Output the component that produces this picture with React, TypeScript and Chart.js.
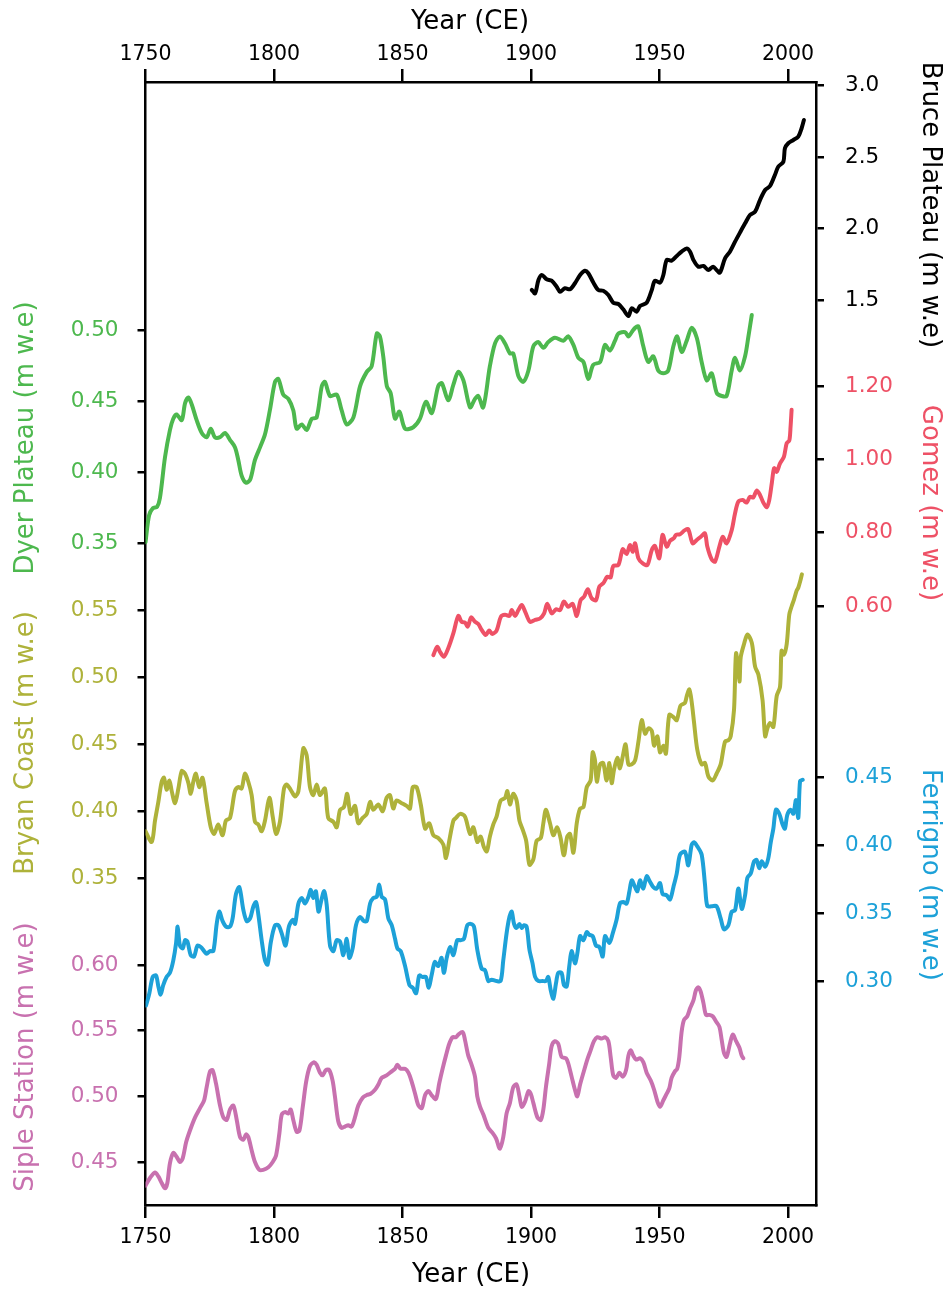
import React, { useEffect, useRef } from "react";
import { Chart, registerables } from "chart.js";

Chart.register(...registerables);

// ---------------- data ----------------
const YEAR_TICKS = [1750, 1800, 1850, 1900, 1950, 2000];

const BRUCE_YEARS = [1900.3, 1901.6, 1902.9, 1904.2, 1906.1, 1908.0, 1910.0, 1911.3, 1913.2, 1915.2, 1917.1, 1919.1, 1921.0, 1922.3, 1924.3, 1926.2, 1928.1, 1930.1, 1932.0, 1934.0, 1935.9, 1937.9, 1939.2, 1941.1, 1942.4, 1945.0, 1947.0, 1948.2, 1950.2, 1951.5, 1952.8, 1954.7, 1956.7, 1958.6, 1960.6, 1961.9, 1963.2, 1965.1, 1967.1, 1969.0, 1970.9, 1972.2, 1973.5, 1975.5, 1977.4, 1979.4, 1981.3, 1983.3, 1985.2, 1987.2, 1989.1, 1991.1, 1993.0, 1994.9, 1996.2, 1998.2, 1998.8, 2000.1, 2002.1, 2004.0, 2005.3, 2006.2];
const BRUCE_VALUES = [1.570, 1.547, 1.640, 1.675, 1.645, 1.635, 1.593, 1.558, 1.582, 1.575, 1.617, 1.675, 1.705, 1.687, 1.621, 1.570, 1.565, 1.535, 1.481, 1.472, 1.435, 1.388, 1.442, 1.418, 1.458, 1.481, 1.570, 1.635, 1.621, 1.675, 1.780, 1.775, 1.808, 1.838, 1.861, 1.838, 1.780, 1.733, 1.738, 1.710, 1.733, 1.710, 1.691, 1.791, 1.838, 1.908, 1.971, 2.036, 2.094, 2.118, 2.199, 2.269, 2.297, 2.374, 2.432, 2.467, 2.561, 2.596, 2.619, 2.642, 2.701, 2.759];

const DYER_YEARS = [1750.0, 1751.4, 1752.9, 1754.5, 1755.6, 1757.6, 1759.5, 1760.8, 1762.1, 1764.1, 1765.4, 1766.7, 1768.0, 1769.9, 1771.9, 1773.8, 1775.4, 1777.0, 1779.0, 1780.9, 1782.9, 1784.8, 1786.1, 1787.4, 1789.1, 1790.7, 1792.6, 1794.6, 1796.5, 1798.4, 1800.4, 1801.7, 1803.6, 1805.6, 1807.5, 1808.8, 1810.8, 1812.7, 1814.7, 1816.6, 1818.6, 1819.8, 1821.8, 1824.4, 1826.3, 1828.3, 1830.9, 1833.5, 1836.1, 1838.0, 1840.0, 1841.2, 1842.5, 1843.9, 1845.4, 1847.1, 1848.8, 1851.0, 1854.2, 1856.8, 1859.1, 1861.4, 1863.9, 1865.3, 1867.8, 1869.8, 1871.7, 1873.7, 1876.3, 1878.2, 1879.5, 1881.4, 1884.0, 1886.0, 1887.9, 1889.9, 1891.8, 1893.1, 1895.1, 1897.0, 1899.0, 1900.9, 1902.8, 1904.8, 1906.7, 1909.3, 1912.6, 1914.5, 1916.5, 1918.4, 1920.4, 1922.3, 1924.2, 1926.9, 1928.8, 1930.7, 1932.7, 1934.0, 1936.6, 1937.9, 1939.2, 1940.5, 1941.8, 1943.7, 1945.6, 1947.6, 1949.5, 1951.5, 1953.4, 1955.4, 1956.9, 1958.6, 1960.6, 1962.5, 1964.5, 1966.4, 1968.4, 1970.3, 1972.3, 1974.2, 1976.1, 1978.1, 1979.4, 1981.3, 1983.3, 1984.6, 1985.9];
const DYER_VALUES = [0.351, 0.370, 0.375, 0.376, 0.382, 0.411, 0.430, 0.438, 0.441, 0.437, 0.449, 0.453, 0.448, 0.437, 0.428, 0.425, 0.431, 0.425, 0.425, 0.428, 0.423, 0.418, 0.409, 0.398, 0.393, 0.395, 0.409, 0.418, 0.427, 0.444, 0.464, 0.466, 0.455, 0.452, 0.444, 0.431, 0.434, 0.430, 0.438, 0.439, 0.461, 0.464, 0.454, 0.455, 0.444, 0.434, 0.439, 0.461, 0.471, 0.475, 0.498, 0.496, 0.482, 0.461, 0.456, 0.438, 0.443, 0.431, 0.432, 0.438, 0.450, 0.442, 0.461, 0.463, 0.451, 0.462, 0.471, 0.465, 0.446, 0.452, 0.454, 0.446, 0.475, 0.491, 0.496, 0.491, 0.484, 0.484, 0.468, 0.464, 0.472, 0.489, 0.492, 0.488, 0.492, 0.495, 0.493, 0.496, 0.490, 0.481, 0.478, 0.466, 0.476, 0.478, 0.490, 0.486, 0.493, 0.498, 0.499, 0.496, 0.499, 0.502, 0.503, 0.489, 0.478, 0.482, 0.472, 0.470, 0.472, 0.489, 0.496, 0.485, 0.493, 0.502, 0.495, 0.478, 0.465, 0.470, 0.456, 0.454, 0.454, 0.472, 0.481, 0.472, 0.482, 0.496, 0.511];

const GOMEZ_YEARS = [1862.0, 1863.5, 1864.6, 1866.1, 1867.8, 1869.8, 1871.7, 1873.0, 1874.3, 1875.4, 1876.7, 1878.2, 1879.5, 1880.8, 1882.4, 1883.7, 1884.9, 1886.6, 1888.3, 1889.9, 1891.6, 1892.5, 1893.8, 1895.1, 1896.4, 1897.7, 1899.6, 1901.6, 1903.5, 1905.1, 1906.3, 1908.1, 1909.7, 1911.3, 1912.8, 1914.5, 1916.2, 1917.8, 1919.3, 1920.7, 1922.1, 1923.6, 1925.3, 1926.6, 1928.1, 1929.7, 1931.0, 1932.0, 1934.0, 1935.7, 1937.2, 1938.5, 1939.6, 1940.5, 1941.8, 1943.5, 1945.3, 1947.0, 1948.2, 1949.9, 1951.2, 1952.8, 1954.1, 1955.6, 1956.4, 1958.0, 1959.9, 1961.2, 1962.9, 1964.5, 1966.4, 1967.7, 1968.6, 1970.3, 1971.6, 1973.3, 1974.6, 1976.1, 1978.1, 1979.4, 1980.7, 1982.4, 1983.9, 1985.2, 1986.5, 1987.8, 1989.1, 1990.4, 1991.7, 1992.7, 1993.7, 1994.6, 1995.6, 1996.9, 1998.4, 1999.5, 2000.5, 2001.0, 2001.4];
const GOMEZ_VALUES = [0.466, 0.489, 0.475, 0.462, 0.485, 0.526, 0.573, 0.557, 0.555, 0.544, 0.569, 0.557, 0.551, 0.535, 0.521, 0.533, 0.524, 0.533, 0.571, 0.576, 0.573, 0.589, 0.573, 0.589, 0.603, 0.585, 0.557, 0.562, 0.566, 0.580, 0.606, 0.580, 0.591, 0.589, 0.612, 0.598, 0.606, 0.573, 0.616, 0.626, 0.646, 0.621, 0.616, 0.653, 0.662, 0.680, 0.678, 0.709, 0.712, 0.755, 0.742, 0.766, 0.748, 0.771, 0.730, 0.716, 0.712, 0.753, 0.764, 0.730, 0.794, 0.762, 0.778, 0.785, 0.794, 0.796, 0.807, 0.809, 0.771, 0.780, 0.791, 0.798, 0.762, 0.727, 0.721, 0.762, 0.789, 0.771, 0.807, 0.853, 0.885, 0.889, 0.882, 0.898, 0.896, 0.915, 0.903, 0.882, 0.869, 0.889, 0.935, 0.976, 0.966, 0.989, 1.007, 1.044, 1.051, 1.089, 1.135];

const BRYAN_YEARS = [1750.0, 1752.4, 1753.7, 1755.0, 1756.3, 1757.2, 1758.2, 1759.3, 1760.2, 1761.5, 1762.8, 1764.1, 1765.4, 1766.7, 1767.6, 1768.6, 1769.6, 1770.9, 1772.2, 1773.8, 1775.4, 1776.7, 1778.3, 1780.0, 1781.3, 1782.9, 1784.8, 1786.1, 1787.4, 1788.7, 1790.0, 1791.3, 1792.6, 1793.9, 1795.2, 1796.5, 1798.2, 1799.5, 1800.8, 1802.3, 1803.9, 1804.9, 1806.5, 1808.2, 1809.5, 1811.4, 1812.7, 1814.0, 1815.3, 1816.6, 1817.9, 1819.8, 1821.1, 1823.1, 1824.4, 1825.7, 1827.2, 1828.5, 1829.8, 1831.5, 1832.8, 1834.5, 1836.1, 1837.4, 1838.6, 1840.6, 1842.3, 1843.8, 1845.1, 1846.4, 1847.7, 1849.7, 1851.6, 1852.9, 1854.0, 1855.5, 1857.1, 1858.8, 1860.4, 1862.0, 1863.9, 1865.9, 1866.9, 1868.2, 1869.8, 1870.8, 1872.4, 1874.3, 1876.3, 1877.6, 1879.1, 1880.4, 1881.7, 1882.8, 1884.0, 1885.3, 1886.6, 1888.2, 1889.9, 1890.8, 1891.8, 1893.1, 1894.4, 1895.5, 1896.8, 1898.1, 1899.4, 1900.9, 1902.2, 1903.8, 1904.8, 1905.8, 1907.4, 1908.7, 1910.2, 1911.5, 1912.8, 1914.1, 1915.2, 1916.5, 1917.8, 1919.1, 1920.4, 1921.7, 1923.2, 1924.0, 1924.9, 1925.6, 1926.9, 1928.1, 1929.4, 1930.5, 1931.4, 1932.3, 1933.6, 1934.6, 1935.7, 1936.8, 1937.9, 1939.2, 1940.5, 1941.8, 1943.1, 1944.4, 1945.7, 1947.0, 1947.9, 1949.2, 1950.2, 1951.5, 1952.5, 1953.8, 1955.6, 1956.7, 1958.2, 1959.9, 1960.6, 1961.6, 1962.5, 1963.4, 1964.7, 1966.4, 1967.7, 1969.0, 1970.7, 1972.2, 1973.8, 1975.5, 1976.8, 1977.7, 1979.0, 1979.8, 1981.1, 1981.6, 1982.9, 1984.2, 1985.9, 1987.2, 1988.5, 1990.1, 1991.1, 1992.0, 1993.0, 1994.3, 1995.6, 1996.9, 1997.5, 1998.4, 1999.5, 2000.5, 2001.4, 2002.3, 2003.4, 2004.0, 2004.9, 2005.4];
const BRYAN_VALUES = [0.385, 0.377, 0.393, 0.407, 0.422, 0.425, 0.416, 0.423, 0.415, 0.406, 0.417, 0.430, 0.428, 0.421, 0.413, 0.422, 0.428, 0.418, 0.425, 0.406, 0.388, 0.383, 0.390, 0.382, 0.393, 0.395, 0.415, 0.418, 0.417, 0.428, 0.422, 0.412, 0.392, 0.390, 0.385, 0.393, 0.410, 0.396, 0.383, 0.392, 0.417, 0.420, 0.416, 0.411, 0.415, 0.447, 0.442, 0.418, 0.412, 0.420, 0.412, 0.417, 0.395, 0.392, 0.388, 0.401, 0.403, 0.413, 0.398, 0.404, 0.391, 0.395, 0.398, 0.407, 0.401, 0.405, 0.400, 0.410, 0.412, 0.402, 0.408, 0.406, 0.404, 0.402, 0.418, 0.418, 0.405, 0.387, 0.391, 0.382, 0.380, 0.375, 0.365, 0.378, 0.393, 0.395, 0.398, 0.396, 0.383, 0.388, 0.377, 0.381, 0.373, 0.370, 0.381, 0.390, 0.396, 0.408, 0.410, 0.415, 0.405, 0.413, 0.408, 0.393, 0.386, 0.378, 0.360, 0.364, 0.378, 0.380, 0.391, 0.401, 0.391, 0.382, 0.388, 0.380, 0.367, 0.381, 0.383, 0.369, 0.391, 0.402, 0.403, 0.418, 0.423, 0.444, 0.438, 0.422, 0.435, 0.436, 0.423, 0.436, 0.421, 0.431, 0.440, 0.432, 0.441, 0.450, 0.435, 0.435, 0.438, 0.452, 0.468, 0.458, 0.462, 0.460, 0.449, 0.456, 0.444, 0.449, 0.443, 0.472, 0.470, 0.468, 0.479, 0.481, 0.486, 0.491, 0.482, 0.467, 0.446, 0.435, 0.436, 0.426, 0.423, 0.428, 0.435, 0.452, 0.453, 0.456, 0.476, 0.518, 0.497, 0.515, 0.525, 0.532, 0.526, 0.508, 0.502, 0.483, 0.456, 0.462, 0.466, 0.463, 0.486, 0.493, 0.520, 0.517, 0.525, 0.547, 0.553, 0.558, 0.565, 0.567, 0.573, 0.577];

const FERRIGNO_YEARS = [1750.2, 1751.5, 1752.8, 1754.1, 1755.0, 1755.9, 1756.9, 1758.2, 1759.5, 1760.8, 1761.9, 1762.5, 1763.4, 1764.5, 1765.4, 1766.3, 1767.6, 1768.9, 1770.2, 1771.5, 1772.8, 1773.8, 1775.1, 1776.4, 1777.7, 1778.7, 1780.0, 1781.3, 1782.9, 1783.9, 1785.2, 1786.5, 1788.1, 1789.4, 1790.7, 1792.0, 1793.0, 1793.9, 1795.2, 1796.5, 1797.5, 1798.8, 1800.4, 1801.7, 1803.0, 1804.5, 1805.8, 1807.3, 1808.2, 1809.5, 1810.8, 1812.1, 1813.4, 1814.3, 1815.3, 1816.3, 1817.3, 1818.5, 1819.5, 1820.5, 1821.8, 1823.1, 1824.4, 1825.7, 1827.0, 1828.3, 1829.3, 1830.6, 1831.9, 1833.5, 1835.0, 1836.1, 1837.4, 1838.6, 1840.0, 1840.9, 1841.9, 1843.2, 1844.5, 1845.8, 1847.1, 1848.0, 1849.3, 1851.0, 1852.7, 1854.0, 1855.3, 1856.5, 1857.8, 1859.1, 1860.2, 1861.3, 1862.6, 1863.9, 1865.2, 1866.1, 1867.2, 1868.5, 1869.8, 1871.3, 1872.6, 1873.9, 1875.2, 1876.5, 1877.8, 1879.1, 1880.8, 1882.1, 1883.4, 1884.7, 1886.6, 1888.2, 1889.2, 1890.5, 1891.6, 1892.5, 1893.4, 1894.4, 1895.5, 1896.4, 1897.3, 1898.3, 1899.4, 1900.6, 1901.6, 1902.9, 1904.5, 1905.8, 1906.7, 1907.7, 1908.7, 1909.7, 1910.6, 1911.9, 1912.8, 1913.9, 1914.9, 1915.8, 1917.1, 1918.0, 1919.1, 1920.4, 1921.7, 1922.7, 1924.0, 1925.3, 1926.6, 1927.9, 1928.8, 1930.5, 1931.8, 1933.3, 1934.6, 1935.9, 1937.2, 1938.3, 1939.2, 1940.5, 1941.4, 1942.4, 1943.7, 1945.0, 1946.3, 1947.6, 1948.9, 1950.2, 1951.2, 1952.8, 1954.1, 1955.4, 1956.7, 1958.0, 1959.9, 1961.2, 1962.5, 1963.4, 1964.7, 1966.4, 1967.7, 1968.6, 1970.3, 1972.2, 1973.8, 1975.1, 1976.8, 1978.1, 1979.4, 1980.7, 1982.0, 1983.3, 1984.2, 1985.5, 1986.8, 1987.8, 1988.8, 1989.8, 1991.1, 1992.3, 1993.3, 1994.3, 1995.3, 1996.6, 1997.9, 1998.8, 1999.7, 2001.0, 2002.1, 2003.1, 2004.0, 2004.7, 2005.7];
const FERRIGNO_VALUES = [0.282, 0.291, 0.303, 0.304, 0.296, 0.290, 0.297, 0.303, 0.306, 0.315, 0.328, 0.340, 0.326, 0.324, 0.330, 0.329, 0.319, 0.318, 0.326, 0.325, 0.322, 0.320, 0.322, 0.322, 0.342, 0.351, 0.344, 0.340, 0.340, 0.346, 0.364, 0.369, 0.352, 0.344, 0.346, 0.355, 0.358, 0.349, 0.330, 0.315, 0.312, 0.329, 0.341, 0.341, 0.335, 0.326, 0.340, 0.345, 0.342, 0.357, 0.361, 0.357, 0.362, 0.367, 0.361, 0.366, 0.351, 0.360, 0.366, 0.356, 0.326, 0.322, 0.330, 0.329, 0.319, 0.331, 0.317, 0.324, 0.341, 0.347, 0.344, 0.344, 0.357, 0.361, 0.362, 0.371, 0.362, 0.360, 0.346, 0.341, 0.331, 0.324, 0.322, 0.311, 0.297, 0.295, 0.291, 0.304, 0.303, 0.303, 0.295, 0.304, 0.314, 0.311, 0.317, 0.306, 0.317, 0.325, 0.319, 0.330, 0.330, 0.331, 0.341, 0.342, 0.340, 0.323, 0.309, 0.308, 0.300, 0.301, 0.300, 0.300, 0.315, 0.335, 0.347, 0.351, 0.342, 0.339, 0.342, 0.339, 0.341, 0.340, 0.323, 0.313, 0.303, 0.300, 0.300, 0.300, 0.303, 0.293, 0.287, 0.298, 0.306, 0.306, 0.297, 0.296, 0.311, 0.322, 0.313, 0.320, 0.333, 0.330, 0.336, 0.334, 0.333, 0.326, 0.325, 0.318, 0.333, 0.328, 0.335, 0.345, 0.357, 0.358, 0.357, 0.366, 0.374, 0.369, 0.366, 0.374, 0.368, 0.377, 0.373, 0.369, 0.368, 0.372, 0.364, 0.363, 0.360, 0.369, 0.379, 0.393, 0.395, 0.385, 0.400, 0.402, 0.399, 0.393, 0.371, 0.355, 0.355, 0.355, 0.346, 0.338, 0.341, 0.351, 0.352, 0.368, 0.353, 0.363, 0.376, 0.379, 0.388, 0.389, 0.383, 0.388, 0.384, 0.390, 0.402, 0.412, 0.426, 0.423, 0.415, 0.412, 0.422, 0.426, 0.423, 0.433, 0.420, 0.447, 0.448];

const SIPLE_YEARS = [1750.0, 1751.8, 1753.7, 1755.0, 1756.3, 1757.6, 1758.5, 1759.5, 1760.8, 1762.1, 1763.4, 1764.5, 1765.8, 1767.3, 1769.3, 1771.2, 1772.8, 1773.8, 1775.1, 1776.1, 1777.4, 1779.0, 1780.3, 1781.6, 1782.9, 1784.2, 1785.5, 1786.8, 1788.1, 1789.1, 1790.0, 1791.3, 1792.6, 1794.3, 1795.8, 1797.8, 1799.5, 1800.8, 1802.1, 1803.0, 1804.3, 1805.6, 1806.5, 1807.5, 1808.8, 1809.9, 1811.2, 1812.5, 1814.0, 1815.6, 1816.6, 1817.9, 1818.9, 1820.2, 1821.5, 1822.8, 1823.7, 1825.0, 1826.3, 1827.6, 1828.9, 1830.2, 1831.5, 1832.8, 1834.5, 1836.1, 1837.6, 1839.3, 1840.6, 1841.9, 1843.8, 1845.8, 1847.1, 1848.0, 1849.3, 1851.0, 1852.3, 1853.6, 1854.9, 1856.2, 1857.5, 1858.8, 1860.1, 1861.3, 1863.0, 1864.3, 1865.6, 1866.9, 1868.2, 1869.5, 1870.8, 1871.7, 1873.4, 1874.3, 1875.6, 1876.9, 1878.2, 1879.1, 1880.2, 1881.5, 1883.4, 1885.1, 1886.4, 1887.9, 1889.2, 1890.5, 1891.8, 1893.1, 1894.4, 1895.5, 1896.4, 1897.7, 1899.0, 1899.9, 1900.9, 1902.5, 1903.8, 1904.8, 1905.8, 1907.1, 1908.0, 1909.3, 1910.6, 1911.9, 1913.6, 1914.5, 1915.8, 1917.1, 1918.0, 1919.1, 1920.4, 1921.9, 1923.2, 1924.5, 1925.8, 1927.5, 1928.8, 1930.1, 1931.0, 1932.0, 1933.1, 1934.4, 1935.7, 1937.0, 1937.9, 1938.8, 1939.8, 1940.9, 1942.4, 1943.7, 1945.0, 1946.6, 1947.9, 1949.2, 1950.2, 1951.5, 1952.8, 1953.8, 1954.7, 1956.0, 1956.9, 1957.7, 1958.6, 1959.5, 1960.8, 1961.9, 1963.2, 1964.2, 1965.1, 1966.0, 1967.1, 1968.1, 1969.4, 1970.7, 1972.0, 1973.3, 1974.2, 1975.1, 1976.1, 1977.4, 1978.5, 1979.8, 1981.1, 1982.0, 1982.6];
const SIPLE_VALUES = [0.432, 0.438, 0.442, 0.439, 0.434, 0.430, 0.434, 0.449, 0.457, 0.454, 0.450, 0.453, 0.465, 0.474, 0.484, 0.491, 0.497, 0.507, 0.519, 0.520, 0.510, 0.493, 0.484, 0.482, 0.490, 0.493, 0.482, 0.469, 0.467, 0.471, 0.469, 0.459, 0.450, 0.444, 0.444, 0.446, 0.450, 0.455, 0.472, 0.486, 0.488, 0.487, 0.490, 0.482, 0.473, 0.474, 0.492, 0.511, 0.523, 0.526, 0.524, 0.518, 0.516, 0.520, 0.520, 0.512, 0.500, 0.481, 0.476, 0.477, 0.478, 0.477, 0.484, 0.493, 0.499, 0.501, 0.502, 0.505, 0.509, 0.514, 0.516, 0.519, 0.521, 0.524, 0.521, 0.521, 0.518, 0.511, 0.502, 0.493, 0.491, 0.501, 0.504, 0.501, 0.498, 0.510, 0.521, 0.531, 0.540, 0.545, 0.545, 0.547, 0.549, 0.543, 0.531, 0.524, 0.515, 0.500, 0.492, 0.486, 0.476, 0.472, 0.468, 0.460, 0.469, 0.487, 0.495, 0.507, 0.509, 0.500, 0.492, 0.496, 0.504, 0.502, 0.495, 0.484, 0.482, 0.490, 0.507, 0.525, 0.538, 0.542, 0.540, 0.530, 0.529, 0.525, 0.515, 0.505, 0.500, 0.509, 0.518, 0.528, 0.535, 0.542, 0.545, 0.544, 0.545, 0.542, 0.530, 0.516, 0.514, 0.518, 0.515, 0.520, 0.531, 0.535, 0.531, 0.528, 0.529, 0.526, 0.518, 0.512, 0.505, 0.496, 0.492, 0.497, 0.502, 0.506, 0.514, 0.519, 0.521, 0.530, 0.549, 0.558, 0.561, 0.567, 0.573, 0.581, 0.583, 0.580, 0.571, 0.562, 0.562, 0.561, 0.557, 0.553, 0.543, 0.533, 0.530, 0.540, 0.547, 0.542, 0.537, 0.531, 0.529];

const BRUCE_TICKS = [1.5, 2.0, 2.5, 3.0];
const GOMEZ_TICKS = [0.6, 0.8, 1.0, 1.2];
const FERRIGNO_TICKS = [0.3, 0.35, 0.4, 0.45];
const DYER_TICKS = [0.35, 0.4, 0.45, 0.5];
const BRYAN_TICKS = [0.35, 0.4, 0.45, 0.5, 0.55];
const SIPLE_TICKS = [0.45, 0.5, 0.55, 0.6];

// ---------------- layout ----------------
const W = 948;
const H = 1290;
const FONT = '"DejaVu Sans", Verdana, sans-serif';
const AREA = { left: 145.5, right: 816, top: 82, bottom: 1205 };
const PX_PER_YEAR = 2.57;
const X_MIN = 1750;
const X_MAX = X_MIN + (AREA.right - AREA.left) / PX_PER_YEAR;
const TITLE_SIZE = 26;

function yRange(v0: number, p0: number, pxPerUnit: number) {
  return {
    min: v0 - (AREA.bottom - p0) / pxPerUnit,
    max: v0 + (p0 - AREA.top) / pxPerUnit,
  };
}

type Side = "left" | "right";
interface Series {
  id: string;
  years: number[];
  values: number[];
  color: string;
  ticks: number[];
  decimals: number;
  side: Side;
  range: { min: number; max: number };
  title: string;
  titleX: number;
  titleY: number;
  outer: boolean;
}

const SERIES: Series[] = [
  { id: "bruce", years: BRUCE_YEARS, values: BRUCE_VALUES, color: "#000000", ticks: BRUCE_TICKS, decimals: 1, side: "right", range: yRange(3.0, 85.5, 143), title: "Bruce Plateau (m w.e)", titleX: 923, titleY: 205, outer: true },
  { id: "dyer", years: DYER_YEARS, values: DYER_VALUES, color: "#4DB84E", ticks: DYER_TICKS, decimals: 2, side: "left", range: yRange(0.5, 330.7, 1420), title: "Dyer Plateau (m w.e)", titleX: 33, titleY: 438, outer: true },
  { id: "gomez", years: GOMEZ_YEARS, values: GOMEZ_VALUES, color: "#EE5166", ticks: GOMEZ_TICKS, decimals: 2, side: "right", range: yRange(1.2, 386, 366.7), title: "Gomez (m w.e)", titleX: 923, titleY: 503, outer: false },
  { id: "bryan", years: BRYAN_YEARS, values: BRYAN_VALUES, color: "#AEB23A", ticks: BRYAN_TICKS, decimals: 2, side: "left", range: yRange(0.55, 610.5, 1338), title: "Bryan Coast (m w.e)", titleX: 33, titleY: 743, outer: false },
  { id: "ferrigno", years: FERRIGNO_YEARS, values: FERRIGNO_VALUES, color: "#1DA1D8", ticks: FERRIGNO_TICKS, decimals: 2, side: "right", range: yRange(0.45, 777, 1360), title: "Ferrigno (m w.e)", titleX: 923, titleY: 875, outer: false },
  { id: "siple", years: SIPLE_YEARS, values: SIPLE_VALUES, color: "#C871AF", ticks: SIPLE_TICKS, decimals: 2, side: "left", range: yRange(0.6, 965, 1313.3), title: "Siple Station (m w.e)", titleX: 33, titleY: 1057, outer: false },
];

const X_TITLES = [
  { text: "Year (CE)", x: 470, y: 29 },
  { text: "Year (CE)", x: 471, y: 1282 },
];

const titlePlugin = {
  id: "customTitles",
  afterLayout(chart: any) {
    // let the overlapping (zero-width) y axes draw their labels in the margin
    for (const s of SERIES) {
      if (s.outer) continue;
      const sc = chart.scales[s.id];
      if (!sc) continue;
      if (s.side === "left") sc.left = 0;
      else sc.right = W;
    }
  },
  afterDraw(chart: any) {
    const ctx = chart.ctx as CanvasRenderingContext2D;
    ctx.save();
    ctx.font = `${TITLE_SIZE}px ${FONT}`;
    ctx.textAlign = "center";
    ctx.textBaseline = "alphabetic";
    ctx.fillStyle = "#000";
    for (const t of X_TITLES) ctx.fillText(t.text, t.x, t.y);
    for (const s of SERIES) {
      ctx.save();
      ctx.translate(s.titleX, s.titleY);
      ctx.rotate(s.side === "left" ? -Math.PI / 2 : Math.PI / 2);
      ctx.fillStyle = s.color;
      ctx.fillText(s.title, 0, 0);
      ctx.restore();
    }
    ctx.restore();
  },
};

function xScale(position: "top" | "bottom") {
  return {
    type: "linear",
    position,
    min: X_MIN,
    max: X_MAX,
    afterBuildTicks: (s: any) => {
      s.ticks = YEAR_TICKS.map((v) => ({ value: v }));
    },
    afterFit: (s: any) => {
      s.height = position === "top" ? AREA.top : H - AREA.bottom;
    },
    ticks: {
      color: "#000",
      font: { family: FONT, size: 20.5 },
      padding: position === "top" ? 2 : 7,
      maxRotation: 0,
      autoSkip: false,
      callback: (v: any) => String(v),
    },
    grid: { display: true, drawOnChartArea: false, drawTicks: true, tickLength: 13, lineWidth: 2.5, color: "#000" },
    border: { display: true, width: 2.5, color: "#000" },
  };
}

function yScale(s: Series) {
  return {
    type: "linear",
    position: s.side,
    weight: s.outer ? 10 : 0,
    min: s.range.min,
    max: s.range.max,
    afterBuildTicks: (sc: any) => {
      sc.ticks = s.ticks.map((v) => ({ value: v }));
    },
    afterFit: (sc: any) => {
      sc.width = s.outer ? (s.side === "left" ? AREA.left : W - AREA.right) : 0;
    },
    ticks: {
      color: s.color,
      font: { family: FONT, size: 21.5 },
      padding: s.side === "left" ? 19 : 21,
      autoSkip: false,
      callback: (v: any) => Number(v).toFixed(s.decimals),
    },
    grid: { display: true, drawOnChartArea: false, drawTicks: true, tickLength: 8, lineWidth: 2.5, color: "#000" },
    border: { display: s.outer, width: 2.5, color: "#000" },
  };
}

export default function App() {
  const canvasRef = useRef<HTMLCanvasElement | null>(null);

  useEffect(() => {
    const canvas = canvasRef.current;
    if (!canvas) return;
    const scales: any = { x: xScale("bottom"), xTop: xScale("top") };
    for (const s of SERIES) scales[s.id] = yScale(s);

    const chart = new Chart(canvas, {
      type: "line",
      data: {
        datasets: SERIES.map((s) => ({
          label: s.title,
          data: s.years.map((x, i) => ({ x, y: s.values[i] })),
          xAxisID: "x",
          yAxisID: s.id,
          borderColor: s.color,
          backgroundColor: s.color,
          borderWidth: 4,
          pointRadius: 0,
          tension: 0.3,
          borderJoinStyle: "round",
          borderCapStyle: "round",
          fill: false,
        })),
      } as any,
      options: {
        responsive: false,
        animation: false,
        layout: { padding: 0 },
        plugins: { legend: { display: false }, tooltip: { enabled: false }, title: { display: false } },
        scales,
      } as any,
      plugins: [titlePlugin],
    });
    return () => chart.destroy();
  }, []);

  return (
    <div style={{ position: "absolute", left: 0, top: 0, width: W, height: H, background: "#fff" }}>
      <canvas ref={canvasRef} width={W} height={H} style={{ width: W, height: H, display: "block" }} />
    </div>
  );
}
